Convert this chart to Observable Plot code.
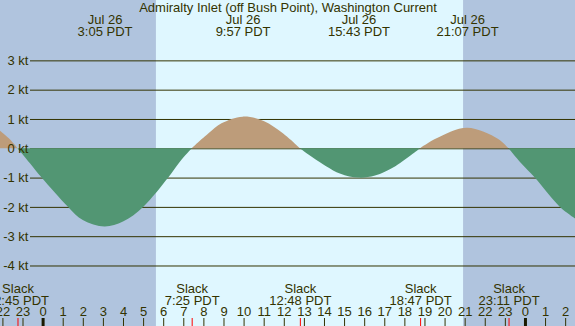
<!DOCTYPE html>
<html>
<head>
<meta charset="utf-8">
<script src="https://cdn.jsdelivr.net/npm/d3@7"></script>
<script src="https://cdn.jsdelivr.net/npm/@observablehq/plot@0.6"></script>
<style>
  html, body { margin: 0; padding: 0; background: #fff; }
</style>
</head>
<body>
<div id="chart"></div>
<script>
// ---- data (hours relative to midnight, Jul 26) ----
const titleText = "Admiralty Inlet (off Bush Point), Washington Current";
const viewStart = -2.12;   // left edge of the view (Jul 25 ~21:53)
const viewEnd = 26.49;     // right edge of the view (Jul 27 ~02:29)
const sunrise = 5.64;      // 5:38
const sunset = 20.92;      // 20:55

// current curve (knots)
const curveHours  = [-2.12, -1.68, -1.25, -0.63, -0.05, 1.27, 2.0, 3.08, 4.0, 5.0, 6.25, 6.83, 7.42,
                     8.24, 8.9, 9.95, 11.0, 11.97, 12.8,
                     13.46, 14.79, 15.72, 16.54, 17.53, 18.78,
                     19.6, 21.12, 22.67, 23.18,
                     23.8, 24.49, 25.74, 26.49];
const curveValues = [0.6, 0.34, 0, -0.51, -1.0, -2.0, -2.45, -2.67, -2.5, -2.0, -1.0, -0.46, 0,
                     0.5, 0.85, 1.08, 0.93, 0.5, 0,
                     -0.32, -0.86, -1.0, -0.93, -0.62, 0,
                     0.34, 0.70, 0.32, 0,
                     -0.5, -1.0, -2.0, -2.39];

// max current labels (top)
const maxHours  = [3.083, 9.95, 15.717, 21.117];
const maxLabels = ["3:05 PDT", "9:57 PDT", "15:43 PDT", "21:07 PDT"];
const maxDate = "Jul 26";

// slack labels (bottom)
const slackHours  = [-1.25, 7.417, 12.8, 18.783, 23.183];
const slackLabels = ["22:45 PDT", "7:25 PDT", "12:48 PDT", "18:47 PDT", "23:11 PDT"];

// y grid values and hour ticks
const knotTicks = [3, 2, 1, 0, -1, -2, -3, -4];
const hourTicks = [-2, -1, 0, 1, 2, 3, 4, 5, 6, 7, 8, 9, 10, 11, 12, 13, 14, 15, 16, 17, 18, 19, 20, 21, 22, 23, 24, 25, 26];

// ---- build tables ----
// split the curve at slack (zero) points into flood / ebb segments
const points = [];
let seg = 0;
curveHours.forEach((h, i) => {
  const v = curveValues[i];
  points.push({h, v, seg});
  if (v === 0 && i > 0 && i < curveHours.length - 1) {
    seg++;
    points.push({h, v, seg});
  }
});
const segSign = {};
points.forEach(p => { if (p.v !== 0) segSign[p.seg] = p.v > 0 ? "flood" : "ebb"; });
points.forEach(p => p.kind = segSign[p.seg]);

const bands = [
  {x1: viewStart, x2: sunrise, kind: "night"},
  {x1: sunrise, x2: sunset, kind: "day"},
  {x1: sunset, x2: viewEnd, kind: "night"}
];
const topLabels = maxHours.map((h, i) => ({h, text: maxDate + "\n" + maxLabels[i]}));
const slackData = slackHours.map((h, i) => ({h, text: "Slack\n" + slackLabels[i]}));
const hourData = hourTicks.map(h => ({h, label: String(((h % 24) + 24) % 24), midnight: h % 24 === 0}));

const C = {
  night: "#b0c4de",
  day: "#dff7ff",
  flood: "#bd9c7a",
  ebb: "#529673",
  ink: "#333300",
  grid: "#333300",
  slack: "#ff0000",
  midnight: "#1a1a00"
};

const chart = Plot.plot({
  width: 575,
  height: 326,
  marginTop: 0, marginBottom: 0, marginLeft: 0, marginRight: 0,
  x: {domain: [viewStart, viewEnd], axis: null},
  y: {domain: [-6.065, 5.06], axis: null},
  style: {fontFamily: "'Liberation Sans', Arial, sans-serif", fontSize: "13px", color: C.ink, background: "#fff"},
  marks: [
    Plot.rect(bands, {x1: "x1", x2: "x2", fill: d => C[d.kind]}),
    Plot.ruleY(knotTicks, {y: d => d, stroke: C.grid, strokeWidth: 1, insetLeft: 30}),
    Plot.areaY(points, {x: "h", y: "v", z: "seg", fill: d => C[d.kind], curve: "catmull-rom"}),
    Plot.text(knotTicks, {y: d => d, text: d => `${d} kt`, frameAnchor: "left", textAnchor: "end", dx: 28, fill: C.ink}),
    Plot.text([titleText], {text: d => d, frameAnchor: "top", lineAnchor: "top", dy: 2.5, fill: C.ink}),
    Plot.text(topLabels, {x: "h", text: "text", frameAnchor: "top", lineAnchor: "top", dy: 14.8, lineHeight: 0.93, fill: C.ink}),
    Plot.text(slackData, {x: "h", text: "text", frameAnchor: "bottom", lineAnchor: "bottom", dy: -21.5, lineHeight: 0.96, fill: C.ink}),
    Plot.text(hourData, {x: "h", text: "label", frameAnchor: "bottom", lineAnchor: "bottom", dy: -10.5, fill: C.ink}),
    Plot.ruleX(hourData.filter(d => !d.midnight), {x: "h", stroke: C.ink, strokeWidth: 1, insetTop: 318}),
    Plot.ruleX(slackHours, {x: d => d, stroke: C.slack, strokeWidth: 1, insetTop: 318}),
    Plot.ruleX(hourData.filter(d => d.midnight), {x: "h", stroke: C.midnight, strokeWidth: 3, insetTop: 318})
  ]
});
document.getElementById("chart").appendChild(chart);
</script>
</body>
</html>
